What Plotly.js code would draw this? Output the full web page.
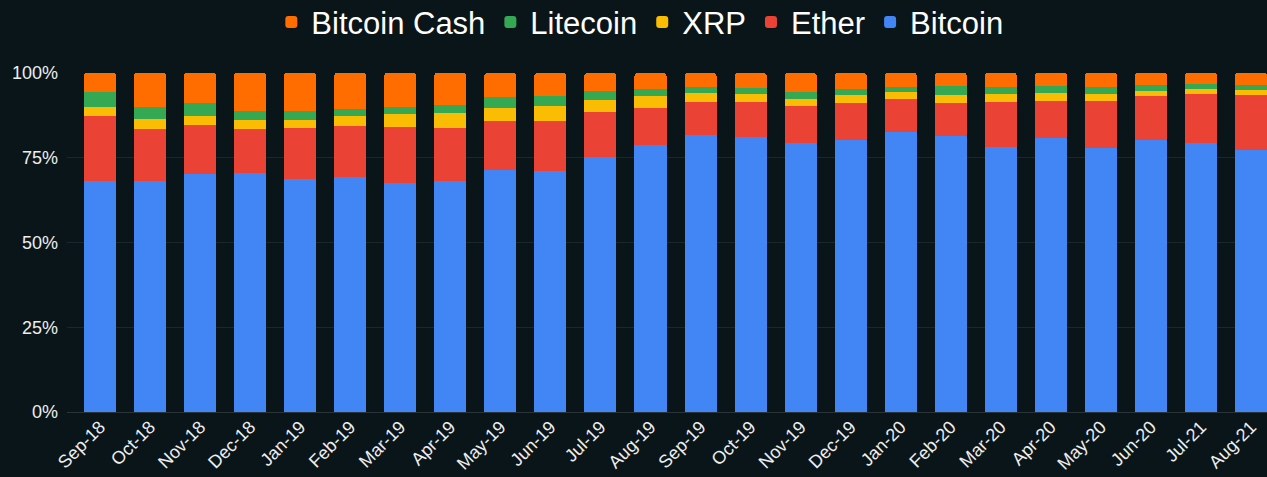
<!DOCTYPE html>
<html>
<head>
<meta charset="utf-8">
<script src="https://cdn.plot.ly/plotly-3.0.1.min.js"></script>
<style>
  html, body { margin: 0; padding: 0; background: #0a1519; }
  #chart { width: 1267px; height: 477px; }
</style>
</head>
<body>
<div id="chart"></div>
<script>
var months = ["Sep-18","Oct-18","Nov-18","Dec-18","Jan-19","Feb-19","Mar-19","Apr-19","May-19","Jun-19","Jul-19","Aug-19",
              "Sep-19","Oct-19","Nov-19","Dec-19","Jan-20","Feb-20","Mar-20","Apr-20","May-20","Jun-20","Jul-21","Aug-21"];
var bitcoin  = [68.2,68.2,70.2,70.4,68.6,69.4,67.6,68.2,71.4,71.0,75.2,78.7,81.6,81.0,79.4,80.3,82.7,81.3,78.1,80.7,77.8,80.3,79.3,77.4];
var ether    = [19.2,15.3,14.5,13.1,15.2,15.0,16.5,15.6,14.3,14.7,13.4,11.1,9.9,10.5,10.8,10.8,9.7,9.8,13.4,11.1,14.0,12.8,14.4,16.0];
var xrp      = [2.6,2.9,2.7,2.6,2.3,3.0,3.9,4.5,4.1,4.5,3.5,3.3,2.6,2.3,2.2,2.3,2.0,2.3,2.3,2.3,2.0,1.6,1.7,1.7];
var litecoin = [4.5,3.6,3.7,2.6,2.6,1.9,2.0,2.2,3.0,2.9,2.6,2.2,1.8,1.9,2.0,1.9,1.5,2.9,2.1,2.2,2.1,1.8,1.5,1.4];
var bitcoinCash = [5.5,10.0,8.9,11.3,11.3,10.7,10.0,9.5,7.2,6.9,5.3,4.7,4.1,4.3,5.6,4.7,4.1,3.7,4.1,3.7,4.1,3.5,3.1,3.5];

var seriesNames = ["Bitcoin","Ether","XRP","Litecoin","Bitcoin Cash"];
var seriesValues = [bitcoin, ether, xrp, litecoin, bitcoinCash];
var seriesColors = ["#4285f4","#ea4335","#fbbc04","#34a853","#ff6d01"];

var traces = seriesNames.map(function(n, i) {
  return {
    type: "bar",
    name: n,
    x: months,
    y: seriesValues[i],
    marker: { color: seriesColors[i], line: { width: 0 } },
    hoverinfo: "x+y+name"
  };
});

var font = "Liberation Sans, Arial, sans-serif";
var layout = {
  width: 1267,
  height: 477,
  paper_bgcolor: "#0a1519",
  plot_bgcolor: "#0a1519",
  barmode: "stack",
  bargap: 0.36,
  barcornerradius: 3,
  margin: { l: 67, r: 0, t: 73, b: 65 },
  font: { family: font, color: "#eeeeee", size: 17 },
  showlegend: true,
  legend: {
    orientation: "h",
    traceorder: "reversed",
    xref: "container", x: 0.505, xanchor: "center",
    yref: "container", y: 0.953, yanchor: "middle",
    font: { family: font, size: 31, color: "#ffffff" },
    bgcolor: "rgba(0,0,0,0)"
  },
  xaxis: {
    type: "category",
    range: [-0.66, 23.32],
    tickangle: -45,
    dtick: 1,
    showgrid: false,
    zeroline: false,
    showline: false,
    ticks: "",
    tickfont: { family: font, size: 18, color: "#eeeeee" },
    fixedrange: true
  },
  yaxis: {
    range: [0, 100],
    tickvals: [0, 25, 50, 75, 100],
    ticktext: ["0%", "25%", "50%", "75%", "100%"],
    showgrid: true,
    gridcolor: "#1a282d",
    gridwidth: 1,
    zeroline: true,
    zerolinecolor: "#2a3438",
    zerolinewidth: 1,
    ticks: "",
    ticklabelstandoff: 8,
    tickfont: { family: font, size: 18, color: "#eeeeee" },
    fixedrange: true
  }
};

Plotly.newPlot("chart", traces, layout, { displayModeBar: false, staticPlot: true });
</script>
</body>
</html>
